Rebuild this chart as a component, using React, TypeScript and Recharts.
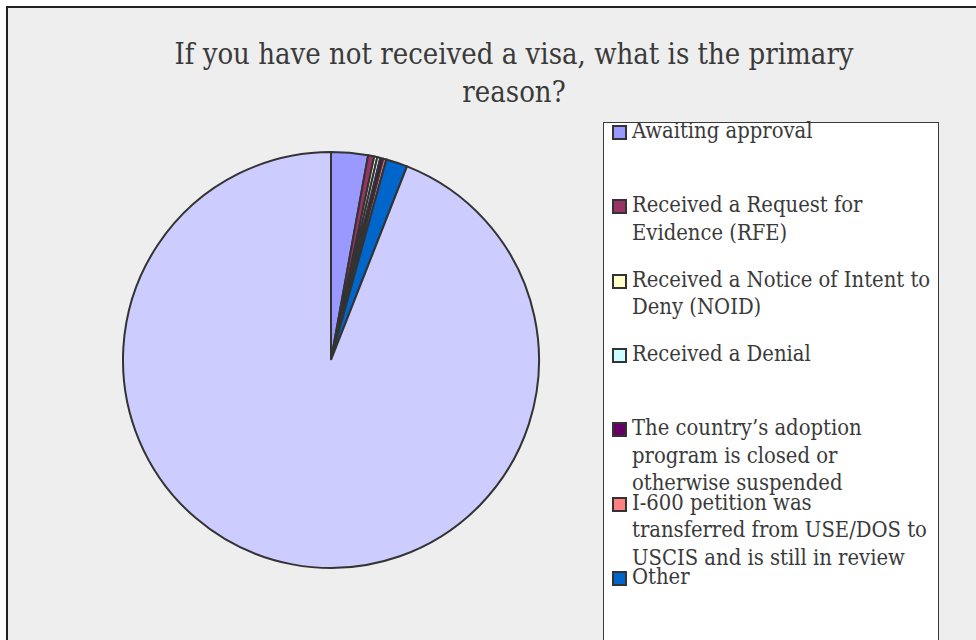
import React from "react";
import { PieChart, Pie, Cell, Legend } from "recharts";

const categories: string[] = [
  "Awaiting approval",
  "Received a Request for Evidence (RFE)",
  "Received a Notice of Intent to Deny (NOID)",
  "Received a Denial",
  "The country\u2019s adoption program is closed or otherwise suspended",
  "I-600 petition was transferred from USE/DOS to USCIS and is still in review",
  "Other",
  "Not applicable",
];

// legend label lines as wrapped in the reference (the last entry falls below the visible area)
const legendLines: string[][] = [
  ["Awaiting approval"],
  ["Received a Request for", "Evidence (RFE)"],
  ["Received a Notice of Intent to", "Deny (NOID)"],
  ["Received a Denial"],
  ["The country\u2019s adoption", "program is closed or", "otherwise suspended"],
  ["I-600 petition was", "transferred from USE/DOS to", "USCIS and is still in review"],
  ["Other"],
];

const responses: number[] = [12, 2, 1, 1, 1, 1, 7, 395];

const colors: string[] = [
  "#9999ff",
  "#993366",
  "#ffffcc",
  "#ccffff",
  "#660066",
  "#ff8080",
  "#0066cc",
  "#ccccff",
];

const titleText = "If you have not received a visa, what is the primary reason?";

const data = categories.map((name, i) => ({ name, value: responses[i] }));

const FONT = "'DejaVu Serif Condensed', 'DejaVu Serif', serif";
const TEXT = "#3a3a3a";

const renderLegend = () => (
  <div
    style={{
      position: "relative",
      width: 336,
      height: 540,
      background: "#ffffff",
      border: "1px solid #3a3a3a",
      boxSizing: "border-box",
      fontFamily: FONT,
      fontSize: 21.8,
      lineHeight: "27.5px",
      color: TEXT,
    }}
  >
    {legendLines.map((lines, i) => (
      <div
        key={categories[i]}
        style={{
          position: "absolute",
          left: 0,
          top: -6 + i * 74.3,
          width: 336,
        }}
      >
        <div
          style={{
            position: "absolute",
            left: 8,
            top: 8,
            width: 11,
            height: 11,
            background: colors[i],
            border: "2px solid #333333",
          }}
        />
        <div style={{ marginLeft: 28, width: 310, whiteSpace: "nowrap" }}>
          {lines.map((ln, j) => (
            <div key={j}>{ln}</div>
          ))}
        </div>
      </div>
    ))}
  </div>
);

export default function App() {
  return (
    <div
      style={{
        position: "fixed",
        left: 0,
        top: 0,
        width: 976,
        height: 640,
        overflow: "hidden",
        background: "#ffffff",
      }}
    >
      <div
        style={{
          position: "absolute",
          left: 6,
          top: 6,
          width: 1000,
          height: 700,
          background: "#eeeeee",
          borderTop: "2px solid #222222",
          borderLeft: "2px solid #222222",
        }}
      />
      <div
        style={{
          position: "absolute",
          left: 144,
          top: 35,
          width: 740,
          textAlign: "center",
          fontFamily: FONT,
          fontSize: 29,
          lineHeight: "38px",
          color: TEXT,
        }}
      >
        {titleText}
      </div>
      <div style={{ position: "absolute", left: 0, top: 0 }}>
        <PieChart width={976} height={640} margin={{ top: 0, right: 0, bottom: 0, left: 0 }}>
          <Pie
            data={data}
            dataKey="value"
            nameKey="name"
            cx={331}
            cy={360}
            outerRadius={208}
            startAngle={90}
            endAngle={-270}
            stroke="#333333"
            strokeWidth={2}
            isAnimationActive={false}
          >
            {data.map((d, i) => (
              <Cell key={d.name} fill={colors[i]} />
            ))}
          </Pie>
          <Legend
            layout="vertical"
            align="right"
            verticalAlign="top"
            content={renderLegend}
            wrapperStyle={{ left: 603, top: 122, width: 336, right: "auto" }}
          />
        </PieChart>
      </div>
    </div>
  );
}
